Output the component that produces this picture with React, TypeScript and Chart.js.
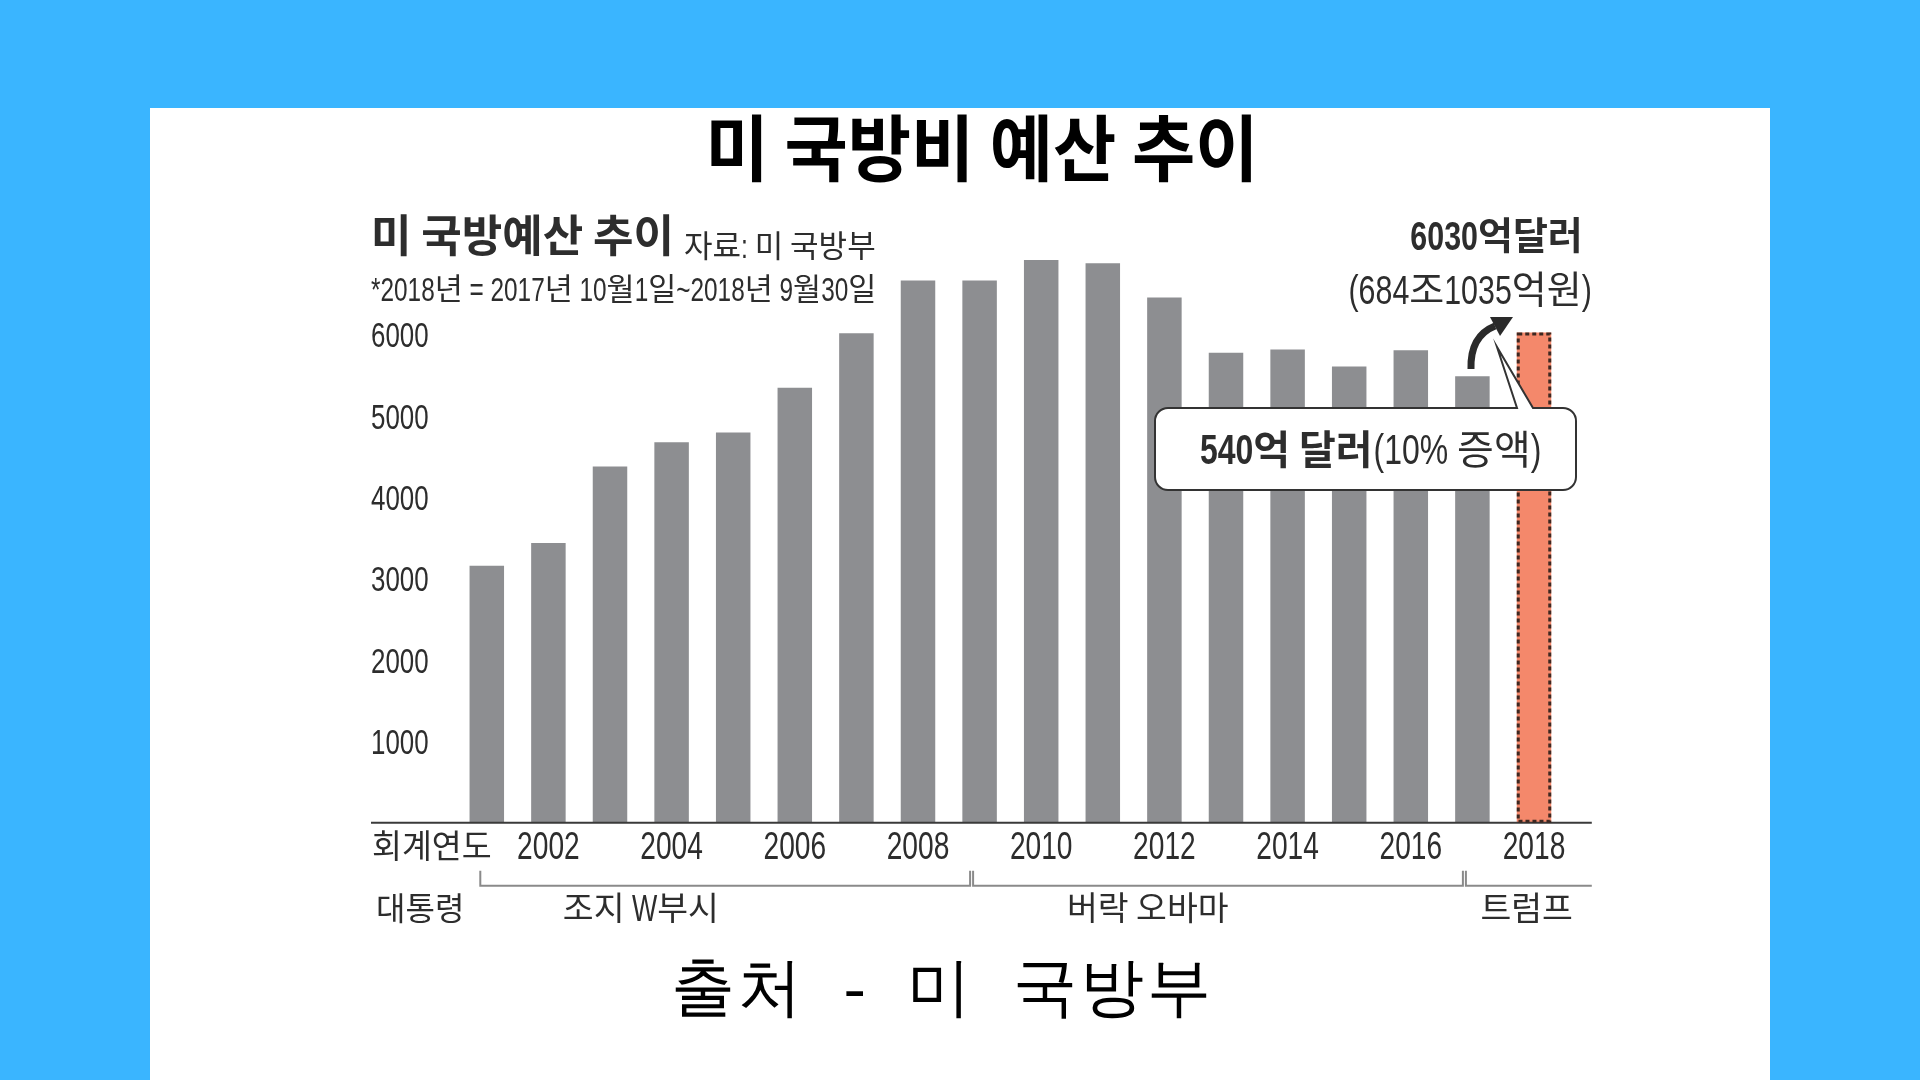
import React, { useEffect, useRef } from 'react';
import { Chart, registerables } from 'chart.js';

Chart.register(...registerables);

// ---------- data ----------
const years = ['2001', '2002', '2003', '2004', '2005', '2006', '2007', '2008', '2009', '2010', '2011', '2012', '2013', '2014', '2015', '2016', '2017', '2018'];
const budget = [3160, 3440, 4380, 4680, 4800, 5350, 6020, 6670, 6670, 6920, 6880, 6460, 5780, 5820, 5610, 5810, 5490, 6030];
const yTickValues = [1000, 2000, 3000, 4000, 5000, 6000];
const presidents = ['조지 W부시', '버락 오바마', '트럼프'];
const termStartIndex = [0, 8, 16];
const highlightIndex = 17;

const chartTitle = '미 국방비 예산 추이';
const sourceLine = '출처 - 미 국방부';
const headerMain = '미 국방예산 추이';
const headerSource = '자료: 미 국방부';
const headerNote = '*2018년 = 2017년 10월1일~2018년 9월30일';
const axisCaption = '회계연도';
const presidentCaption = '대통령';
const totalLabel = '6030억달러';
const totalKrw = '(684조1035억원)';
const increaseBold = '540억 달러';
const increaseRest = '(10% 증액)';

// ---------- styles ----------
const LATIN = '"Liberation Sans", Arial, sans-serif';
const HANGUL = '"Noto Sans CJK KR", sans-serif';
const SX = 0.74; // horizontal condensing for latin/digit runs
const TEXT = '#2d2d2d';
const BAR_GRAY = '#8d8e91';
const BAR_ORANGE = '#f4886b';

const CANVAS_LEFT = 150;
const CANVAS_TOP = 190;
const CANVAS_W = 1620;
const CANVAS_H = 760;

const HANGUL_RE = /[\u1100-\u11FF\u3130-\u318F\uAC00-\uD7AF]/;

function splitRuns(s: string) {
  const out: { t: string; h: boolean }[] = [];
  for (const ch of s) {
    const h = HANGUL_RE.test(ch);
    const last = out[out.length - 1];
    if (last && last.h === h) last.t += ch;
    else out.push({ t: ch, h });
  }
  return out;
}

// draws mixed Hangul / condensed latin text, vertically centred on y
function mixed(
  ctx: CanvasRenderingContext2D,
  s: string,
  x: number,
  y: number,
  size: number,
  weight = 'normal',
  align: 'left' | 'right' | 'center' = 'left',
  color = TEXT,
  latinSize = size * 1.08,
) {
  const rs = splitRuns(s);
  const hFont = `${weight} ${size}px ${HANGUL}`;
  const lFont = `${weight} ${latinSize}px ${LATIN}`;
  let total = 0;
  const widths = rs.map((r) => {
    ctx.font = r.h ? hFont : lFont;
    const w = ctx.measureText(r.t).width * (r.h ? 1 : SX);
    total += w;
    return w;
  });
  let cx = align === 'left' ? x : align === 'right' ? x - total : x - total / 2;
  ctx.fillStyle = color;
  ctx.textAlign = 'left';
  ctx.textBaseline = 'alphabetic';
  rs.forEach((r, i) => {
    ctx.font = r.h ? hFont : lFont;
    if (r.h) {
      ctx.fillText(r.t, cx, y + 0.37 * size);
    } else {
      ctx.save();
      ctx.translate(cx, y + 0.358 * latinSize);
      ctx.scale(SX, 1);
      ctx.fillText(r.t, 0, 0);
      ctx.restore();
    }
    cx += widths[i];
  });
  return total;
}

const decorPlugin = {
  id: 'decor',
  afterDraw(chart: any) {
    const { ctx, chartArea, scales } = chart;
    const x = scales.x;
    const y = scales.y;
    const base = y.getPixelForValue(0);
    const pitch = x.getPixelForValue(1) - x.getPixelForValue(0);
    const lineEnd = chartArea.right + 27;
    ctx.save();

    // baseline
    ctx.strokeStyle = '#3a3a3a';
    ctx.lineWidth = 2;
    ctx.beginPath();
    ctx.moveTo(y.left, base);
    ctx.lineTo(lineEnd, base);
    ctx.stroke();

    // dotted border on highlighted bar
    const bar = chart.getDatasetMeta(0).data[highlightIndex];
    const p = bar.getProps(['x', 'y', 'width', 'base'], true);
    ctx.setLineDash([4, 3]);
    ctx.lineWidth = 3;
    ctx.strokeStyle = '#3d2822';
    ctx.strokeRect(p.x - p.width / 2 + 1.5, p.y + 1.5, p.width - 3, p.base - p.y - 3);
    ctx.setLineDash([]);

    // y tick labels (positions from the y scale)
    y.ticks.forEach((t: any) => {
      if (!yTickValues.includes(t.value)) return;
      mixed(ctx, String(t.value), y.left, y.getPixelForValue(t.value), 35, 'normal', 'left', TEXT, 35);
    });
    // x tick labels (positions from the category scale)
    years.forEach((yr, i) => {
      if (Number(yr) % 2 !== 0) return;
      mixed(ctx, yr, x.getPixelForValue(i), base + 23, 38, 'normal', 'center', TEXT, 38);
    });

    // axis captions
    mixed(ctx, axisCaption, y.left + 1, base + 23, 32.5);
    mixed(ctx, presidentCaption, y.left + 5, base + 85, 32);

    // president brackets
    const bracketY = base + 63;
    const tickTop = base + 48;
    ctx.strokeStyle = '#8a8a8a';
    ctx.lineWidth = 2;
    const labelIdx = [2.5, 10.73, 16.88];
    for (let i = 0; i < presidents.length; i++) {
      const start = x.getPixelForValue(termStartIndex[i]) - 8 + 1.5;
      const isLast = i === presidents.length - 1;
      const end = isLast ? lineEnd : x.getPixelForValue(termStartIndex[i + 1]) - 8 - 1.5;
      ctx.beginPath();
      ctx.moveTo(start, tickTop);
      ctx.lineTo(start, bracketY);
      ctx.lineTo(end, bracketY);
      if (!isLast) ctx.lineTo(end, tickTop);
      ctx.stroke();
      const lx = x.getPixelForValue(0) + labelIdx[i] * pitch;
      mixed(ctx, presidents[i], lx, base + 85, 33.5, 'normal', 'center');
    }

    // header texts
    const hmW = mixed(ctx, headerMain, y.left, 46, 44, 'bold');
    mixed(ctx, headerSource, y.left + hmW + 10, 56, 31);
    mixed(ctx, headerNote, y.left, 99, 30.5);
    mixed(ctx, totalLabel, lineEnd - 9, 45, 38, 'bold', 'right');
    mixed(ctx, totalKrw, lineEnd, 99, 38, 'normal', 'right');

    // curved arrow
    ctx.strokeStyle = '#2a2a2a';
    ctx.fillStyle = '#2a2a2a';
    ctx.lineWidth = 7;
    ctx.lineCap = 'butt';
    ctx.beginPath();
    ctx.moveTo(1321, 179);
    ctx.quadraticCurveTo(1320, 146, 1345, 136);
    ctx.stroke();
    ctx.beginPath();
    ctx.moveTo(1363, 127);
    ctx.lineTo(1350, 146);
    ctx.lineTo(1340, 127);
    ctx.closePath();
    ctx.fill();

    // callout box with pointer
    const bx0 = 1005, by0 = 218, bx1 = 1426, by1 = 300, r = 13;
    ctx.lineWidth = 2;
    ctx.strokeStyle = '#333';
    ctx.fillStyle = '#ffffff';
    ctx.beginPath();
    ctx.moveTo(bx0 + r, by0);
    ctx.lineTo(1367, by0);
    ctx.lineTo(1347, 157);
    ctx.lineTo(1383, by0);
    ctx.lineTo(bx1 - r, by0);
    ctx.arcTo(bx1, by0, bx1, by0 + r, r);
    ctx.lineTo(bx1, by1 - r);
    ctx.arcTo(bx1, by1, bx1 - r, by1, r);
    ctx.lineTo(bx0 + r, by1);
    ctx.arcTo(bx0, by1, bx0, by1 - r, r);
    ctx.lineTo(bx0, by0 + r);
    ctx.arcTo(bx0, by0, bx0 + r, by0, r);
    ctx.closePath();
    ctx.fill();
    ctx.stroke();

    const bW = mixed(ctx, increaseBold, 1050, 259, 40, 'bold');
    mixed(ctx, increaseRest, 1050 + bW + 1, 259, 40);

    ctx.restore();
  },
};

export default function App() {
  const canvasRef = useRef<HTMLCanvasElement | null>(null);

  useEffect(() => {
    if (!canvasRef.current) return;
    const chart = new Chart(canvasRef.current, {
      type: 'bar',
      data: {
        labels: years,
        datasets: [
          {
            data: budget,
            backgroundColor: years.map((_, i) => (i === highlightIndex ? BAR_ORANGE : BAR_GRAY)),
            borderWidth: 0,
            barPercentage: 0.56,
            categoryPercentage: 1,
          },
        ],
      },
      options: {
        animation: false,
        responsive: false,
        devicePixelRatio: 1,
        layout: { padding: { left: 221, right: 205.2, top: 63.6, bottom: 67.3 } },
        plugins: { legend: { display: false }, tooltip: { enabled: false }, title: { display: false } },
        scales: {
          x: {
            grid: { display: false, drawTicks: false },
            border: { display: false },
            ticks: { display: false, autoSkip: false },
            afterFit: (s: any) => {
              s.height = 60;
            },
          },
          y: {
            min: 0,
            max: 7000,
            grid: { display: false, drawTicks: false },
            border: { display: false },
            ticks: { display: false, stepSize: 1000 },
            afterFit: (s: any) => {
              s.width = 85;
            },
          },
        },
      },
      plugins: [decorPlugin],
    } as any);
    return () => chart.destroy();
  }, []);

  return (
    <div style={{ position: 'absolute', left: 0, top: 0, width: 1920, height: 1080, background: '#3ab5ff', overflow: 'hidden' }}>
      <div style={{ position: 'absolute', left: 150, top: 108, width: 1620, height: 972, background: '#ffffff' }} />
      <div
        style={{
          position: 'absolute',
          left: 0,
          top: 108,
          width: 1964,
          textAlign: 'center',
          fontFamily: '"Noto Sans CJK KR", sans-serif',
          fontWeight: 700,
          fontSize: 72,
          lineHeight: '72px',
          color: '#000',
          whiteSpace: 'nowrap',
          transform: 'scaleX(0.955)',
          transformOrigin: '982px 50%',
        }}
      >
        {chartTitle}
      </div>
      <canvas
        ref={canvasRef}
        width={CANVAS_W}
        height={CANVAS_H}
        style={{ position: 'absolute', left: CANVAS_LEFT, top: CANVAS_TOP, width: CANVAS_W, height: CANVAS_H }}
      />
      <div
        style={{
          position: 'absolute',
          left: 671,
          top: 956,
          fontFamily: 'serif',
          fontSize: 64,
          lineHeight: '64px',
          letterSpacing: 3,
          wordSpacing: 20,
          color: '#000',
          whiteSpace: 'pre',
        }}
      >
        {sourceLine}
      </div>
    </div>
  );
}
